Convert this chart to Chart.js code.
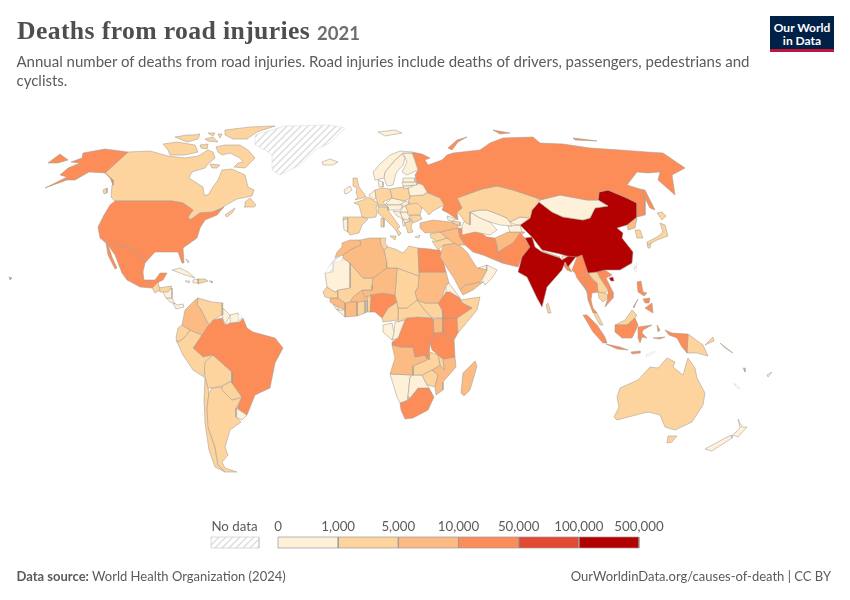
<!DOCTYPE html>
<html><head><meta charset="utf-8">
<script src="https://cdn.jsdelivr.net/npm/chart.js@4"></script>
<style>
html,body{margin:0;padding:0;background:#fff;width:850px;height:600px;overflow:hidden}
#wrap{position:relative;width:850px;height:600px;font-family:Lato,sans-serif}
canvas{position:absolute;left:0;top:0}
.t{position:absolute;white-space:nowrap}
#title{left:17px;top:16px;font:bold 25.7px "Liberation Serif",serif;color:#4e4e4e;letter-spacing:.38px}
#year{left:317px;top:22px;font:bold 18.5px Lato,sans-serif;color:#6e6e6e}
#sub{left:16.5px;top:51.5px;font-size:15px;line-height:19px;color:#5b5b5b;white-space:normal;width:760px}
.lg{top:518px;font-size:13.3px;color:#5b5b5b;transform:translateX(-50%)}
#src{left:16.5px;top:568px;font-size:13px;color:#5b5b5b}
#url{right:19px;top:568px;font-size:13px;color:#5b5b5b}
#logo{left:770px;top:16px;width:64px;height:36px;background:#002147;color:#fff;text-align:center;font:bold 12px/13px Lato,sans-serif}
#logo div{padding-top:5px}
#logo i{position:absolute;left:0;right:0;bottom:0;height:3px;background:#c0143c;display:block}
</style></head><body>
<div id="wrap">
<canvas id="c" width="850" height="600"></canvas>
<div class="t" id="title">Deaths from road injuries</div>
<div class="t" id="year">2021</div>
<div class="t" id="sub">Annual number of deaths from road injuries. Road injuries include deaths of drivers, passengers, pedestrians and cyclists.</div>
<div class="t" id="src"><b>Data source:</b> World Health Organization (2024)</div>
<div class="t" id="url">OurWorldinData.org/causes-of-death | CC BY</div>
<div class="t" id="logo"><div>Our World<br>in Data</div><i></i></div>
</div>
<script>
// Legend classes: bin index i covers legendTicks[i]..legendTicks[i+1]
const legendTicks = ["0","1,000","5,000","10,000","50,000","100,000","500,000"];
const noDataLabel = "No data";
const binColors = ["#fef0d9","#fdd49e","#fdbb84","#fc8d59","#e34a33","#b30000"];
const ND = -1;

// Country class (bin) and simplified outline, in map units.
const noDataAreas = [
["Greenland",ND,[255,135,285,126,330,125,345,128,330,143,315,150,300,165,280,175,272,170,272,155,265,150,255,145]],
["Western Sahara",ND,[325,273,330,265,335,258,343,258,343,260,333,263,333,272]],
["Taiwan",ND,[634,265,637,263,636,272,634,270]],
["French Guiana",ND,[238,313,243,318,239,322]],
["Timor",ND,[646,355,655,351,654,353,647,357]],
["New Caledonia",ND,[734,383,738,386,740,389,736,387]]
];
const northAmerica = [
["USA",3,[115,201,172,201,183,203,193,210,188,217,190,220,200,213,213,212,222,208,224,207,217,215,205,220,200,228,197,238,183,248,184,263,182,263,178,252,163,252,155,252,145,263,138,252,128,247,115,245,106,243,100,238,98,227,104,215,110,205]],
["Alaska",3,[128,152,105,149,83,153,82,158,71,162,80,163,68,168,60,175,67,177,45,188,67,180,75,180,89,172,105,173,113,180,113,185,110,178,105,173]],
["Alaska isl.",3,[48,163,60,154,68,160,58,163]],
["Hawaii",3,[9,277,12,278,10,280]],
["Canada",1,[128,152,150,151,168,156,185,158,198,156,208,150,213,152,215,158,208,164,205,168,192,172,189,178,203,187,204,195,208,195,213,187,218,180,222,170,232,169,245,175,248,187,254,190,252,196,237,199,226,205,222,208,213,212,200,213,190,220,188,217,193,210,183,203,172,201,115,201,111,197,112,185,113,185,113,180,105,173]],
["Newfoundland",1,[245,202,250,198,256,205,254,207,244,207]],
["Nova Scotia",1,[225,215,235,208,232,213,227,217]],
["Vancouver I.",1,[103,190,107,188,107,193,104,194]],
["Baffin",1,[216,147,225,145,240,145,248,150,255,158,245,168,234,167,238,163,243,162,240,158,230,153,222,155,218,152]],
["Ellesmere",1,[225,130,233,129,250,127,275,126,257,132,247,139,233,139,225,135]],
["Victoria I.",1,[163,144,177,142,195,145,198,152,185,155,170,155,168,150]],
["Banks",1,[175,137,187,135,193,135,200,134,198,139,187,142]],
["Somerset",1,[200,145,208,144,207,149,201,148]],
["Devon",1,[205,139,213,137,218,142,208,141]],
["Axel Heiberg",1,[208,133,215,133,213,136]],
["Arctic isl.",1,[218,134,222,134,220,138]],
["Southampton",1,[210,164,220,165,217,168,212,168]],
["Mexico",3,[106,243,115,245,128,247,138,252,145,263,143,272,144,280,155,280,160,273,167,273,163,280,157,283,152,288,140,287,127,280,122,273,115,255,108,245]],
["Baja",3,[106,243,108,255,115,269,117,268,112,257,108,245]],
["Guatemala",1,[152,288,158,282,160,290,155,293]],
["Honduras",1,[158,288,172,286,168,292,160,292]],
["Nicaragua",0,[163,292,172,288,172,298,166,298]],
["Costa Rica",0,[166,298,172,298,175,304,170,302]],
["Panama",0,[172,301,177,305,183,304,184,307,176,309]],
["Cuba",0,[172,270,180,268,188,272,195,278,185,275]],
["Haiti",0,[193,280,198,279,198,283,193,283]],
["Dominican Rep.",1,[198,279,205,279,208,281,198,284]],
["Jamaica",0,[185,281,190,281,189,283]],
["Puerto Rico",0,[209,281,212,281,212,283]],
["Bahamas",0,[186,259,189,261,188,263]]
];
const southAmerica = [
["Colombia",2,[198,298,195,300,185,310,182,325,190,330,202,335,207,327,209,325,207,322,200,308,197,305]],
["Venezuela",1,[198,298,212,302,223,303,222,315,213,320,209,325,207,322,200,308,197,305]],
["Guyana",0,[223,308,230,315,225,325,222,315]],
["Suriname",0,[230,315,238,313,239,322,230,323]],
["Ecuador",1,[182,325,190,330,185,337,178,342,176,338,178,328]],
["Peru",1,[190,330,202,335,193,348,203,357,213,355,205,362,204,377,193,370,183,355,176,340,178,342,185,337]],
["Brazil",3,[202,335,193,348,203,357,213,355,232,372,232,383,242,397,237,408,247,415,255,395,270,388,275,363,283,348,275,338,253,332,247,328,243,318,239,322,230,323,225,325,222,318,213,320,209,325,207,327]],
["Bolivia",1,[204,362,213,355,232,372,232,380,222,386,212,388,208,388,205,377]],
["Paraguay",1,[222,386,232,381,232,383,242,397,232,400,222,390]],
["Argentina",1,[212,388,222,387,232,400,242,397,236,408,236,417,241,422,230,430,228,437,225,447,228,455,222,462,225,468,237,472,225,472,218,465,215,447,208,427,207,408,209,393]],
["Chile",1,[205,377,208,388,209,393,207,408,209,430,215,448,218,465,225,472,215,467,209,450,205,423,204,400]],
["Uruguay",0,[236,408,247,415,242,420,236,417]]
];
const europe = [
["Iceland",0,[322,162,330,159,338,162,333,165,323,165]],
["Svalbard",0,[378,132,395,130,402,133,385,136]],
["Norway",0,[373,172,380,164,390,155,400,151,412,152,415,153,403,153,395,160,385,172,384,178,375,180]],
["Sweden",0,[384,178,385,172,395,160,402,154,405,158,403,165,396,173,393,185,387,186]],
["Finland",0,[403,153,412,153,414,158,418,170,407,175,402,172,407,162]],
["Denmark",0,[378,180,383,182,383,187,379,187]],
["Estonia",0,[403,178,415,178,415,182,403,182]],
["Latvia",0,[402,182,417,182,417,185,403,186]],
["Lithuania",0,[403,186,415,185,408,188,404,189]],
["Belarus",0,[408,188,417,183,423,185,427,192,423,195,410,196]],
["Poland",1,[390,189,403,187,408,188,410,198,405,201,392,198]],
["Germany",1,[375,190,382,188,390,189,392,198,383,202,386,205,378,205,376,198]],
["Benelux",0,[369,195,375,190,376,198,373,200]],
["UK",1,[353,178,357,178,359,187,365,195,366,197,355,200,358,197,356,193,357,188,353,186]],
["Ireland",0,[344,190,350,186,352,190,348,193,345,194]],
["France",1,[354,203,363,200,368,197,378,203,376,208,377,212,376,217,370,218,362,217,359,205]],
["Spain",1,[343,217,362,217,368,219,362,225,359,233,350,235,348,232,348,218,343,220]],
["Portugal",0,[343,220,348,218,348,232,344,230]],
["Italy",1,[378,207,388,207,388,210,390,213,400,227,397,229,401,233,399,236,395,229,386,220,378,213]],
["Sicily",1,[390,236,396,236,395,240]],
["Sardinia",1,[381,218,384,218,384,227,381,227]],
["Switzerland",0,[378,205,386,205,388,207,378,207]],
["Austria",0,[386,205,403,205,400,210,388,210,388,207]],
["Czechia",0,[386,203,392,198,405,201,400,205,388,205]],
["Slovakia",0,[400,205,405,201,410,203,403,207]],
["Hungary",0,[403,207,410,203,405,205,408,212,400,212]],
["Romania",1,[405,205,417,203,422,208,420,215,408,215]],
["Bulgaria",1,[410,215,420,215,422,219,413,223]],
["Greece",1,[405,223,413,220,411,227,413,232,408,233]],
["Serbia",0,[400,212,408,212,410,215,408,220,403,219]],
["Bosnia",0,[393,211,400,212,403,219,397,216]],
["N. Macedonia",0,[403,219,410,218,410,221,405,223]],
["Albania",0,[402,219,404,220,405,226,403,226]],
["Ukraine",1,[410,196,423,195,428,193,440,198,444,205,433,211,429,215,423,208,408,203]],
["Turkey",2,[420,223,433,220,450,222,458,225,457,228,440,232,425,233,420,228]],
["Georgia",0,[447,216,457,219,452,221,448,220]],
["Azerbaijan",1,[452,221,460,222,460,226,455,226]],
["Armenia",0,[450,222,454,222,455,226,451,226]],
["Cyprus",0,[415,237,420,235,419,238]],
["Russia",3,[412,152,422,154,430,158,425,160,428,165,442,160,447,155,453,153,480,150,490,143,503,138,533,137,540,143,563,144,590,148,620,150,647,152,663,153,685,168,672,175,675,195,658,180,660,172,648,173,637,172,627,185,640,189,645,198,645,215,637,217,637,203,627,198,608,190,599,192,598,200,587,200,560,195,540,200,537,198,513,190,497,186,482,189,457,198,462,208,457,212,458,220,448,213,442,210,444,205,440,198,428,193,427,192,423,185,417,183,415,175,418,170,414,158]],
["Kaliningrad",3,[403,187,408,186,408,188,404,189]],
["Novaya Zemlya",3,[448,148,457,140,467,137,458,142,452,150]],
["Sakhalin",3,[640,189,645,190,655,210,650,208]],
["Arctic Russia",3,[573,138,590,140,597,141,575,140]],
["Franz Josef",3,[493,130,510,133,500,134]]
];
const asia = [
["Kazakhstan",1,[457,198,482,189,497,186,513,190,537,198,539,202,532,210,530,218,520,217,510,222,507,218,500,215,487,210,480,210,470,212,470,225,465,222,460,215,457,212,462,208]],
["Uzbekistan",0,[470,212,480,210,487,210,500,215,507,218,510,222,512,226,500,225,490,222,480,218]],
["Turkmenistan",0,[462,225,470,212,480,218,490,222,497,230,490,235,475,232,462,235]],
["Kyrgyzstan",0,[510,222,520,217,530,218,520,225,513,224]],
["Tajikistan",0,[508,226,520,225,522,232,510,232]],
["Mongolia",0,[540,200,560,195,587,200,598,200,608,206,595,208,590,218,583,220,563,217,552,212,539,202]],
["China",5,[539,202,552,212,563,217,583,220,590,218,595,208,608,206,598,200,599,192,608,190,627,198,637,203,637,217,627,225,617,228,623,233,622,238,633,252,632,263,620,270,605,270,597,272,588,273,582,255,577,257,567,256,560,254,542,250,532,237,520,225,530,218,532,210]],
["Hainan",5,[609,278,613,277,614,281,611,281]],
["India",5,[525,238,532,237,535,247,542,252,560,258,562,260,572,254,579,253,575,258,568,267,565,262,562,270,547,287,542,307,537,298,527,277,518,272,522,257,530,247]],
["Nepal",1,[542,251,560,257,558,260,543,255]],
["Bhutan",0,[562,256,568,256,568,259,562,259]],
["Bangladesh",3,[562,263,568,265,572,272,567,270]],
["Pakistan",3,[520,233,525,238,530,247,522,257,518,267,502,263,498,252,513,243]],
["Afghanistan",2,[495,238,508,232,525,232,513,243,498,252,497,245]],
["Iran",3,[458,228,477,230,487,237,495,238,497,245,498,252,502,263,483,255,473,252,465,245,460,237]],
["Iraq",2,[440,232,458,228,460,237,465,245,457,245,447,238]],
["Syria",1,[430,234,440,232,447,238,437,241,431,238]],
["Israel-Jordan",1,[432,241,437,241,447,238,457,243,443,245,438,250]],
["Saudi Arabia",2,[443,245,457,243,467,252,477,268,487,270,480,282,465,285,460,290,455,280,440,257]],
["Yemen",2,[460,290,465,285,480,282,483,282,473,290,463,295]],
["Oman",0,[482,280,487,270,487,265,497,270,492,278,485,285]],
["UAE",0,[478,268,487,265,487,270]],
["Myanmar",3,[577,257,582,255,585,262,588,272,584,277,585,287,588,293,586,290,577,278,575,273,572,270]],
["Thailand",3,[584,277,588,273,593,280,597,283,598,292,592,293,591,300,593,308,597,313,593,313,588,300,587,292,585,287]],
["Laos",1,[588,273,597,272,600,278,608,290,605,293,598,292,597,283,592,278]],
["Vietnam",3,[597,272,605,270,612,275,606,278,613,292,613,298,605,307,608,298,608,290,600,278]],
["Cambodia",1,[598,292,605,293,608,295,608,298,603,302,599,298]],
["Malaysia",1,[593,309,597,313,603,325,600,325,595,316]],
["Sumatra",3,[583,315,587,315,597,325,605,337,607,343,603,343,593,332]],
["Java",3,[606,344,620,347,628,350,617,349]],
["Kalimantan",3,[615,325,627,325,635,318,638,325,635,332,632,338,622,338,615,332]],
["Malaysian Borneo",1,[615,325,625,320,632,310,637,315,635,318,627,325]],
["Sulawesi",3,[638,327,652,325,643,330,642,333,647,338,642,337,640,343,638,338]],
["Lesser Sunda",3,[631,352,640,351,640,353,632,354]],
["Seram",3,[653,338,665,337,660,339]],
["Halmahera",3,[657,325,660,330,658,332]],
["West Papua",3,[665,330,672,333,688,334,687,353,682,347,677,338,669,335]],
["PNG",1,[688,334,703,345,708,356,697,353,687,353]],
["New Britain",1,[705,345,713,337,714,341]],
["Solomon",1,[720,343,733,353,725,348]],
["Luzon",3,[637,282,641,281,643,292,647,293,644,296,638,292]],
["Mindanao",3,[645,308,652,303,653,313,648,310]],
["Visayas",3,[643,299,650,298,649,303,645,303]],
["Palawan",3,[633,307,638,299,636,303,634,308]],
["Sri Lanka",1,[546,305,548,303,551,313,548,313]],
["Hokkaido",1,[657,213,662,212,666,216,662,220]],
["Honshu",1,[660,223,665,225,668,236,657,240,648,245,647,242,657,237,663,232]],
["Kyushu",1,[647,244,651,243,650,248,648,248]],
["North Korea",2,[627,223,637,218,635,228,628,230]],
["South Korea",1,[635,230,640,230,643,238,637,238]]
];
const africa = [
["Egypt",3,[418,248,430,249,436,250,440,250,442,256,446,272,419,272]],
["Libya",1,[384,250,388,247,395,249,403,253,409,246,418,248,419,276,397,268,387,268,387,263]],
["Tunisia",1,[380,238,386,238,385,243,388,247,384,250,381,245]],
["Algeria",2,[360,240,370,238,380,238,381,245,384,250,387,263,387,268,373,278,363,278,350,263,343,258,343,255,350,250,361,245]],
["Morocco",2,[342,243,350,240,360,240,361,245,350,250,343,255,335,258,337,252,342,247]],
["Mauritania",0,[325,273,333,272,333,263,343,258,350,263,350,288,338,290,335,292,327,287,326,280]],
["Mali",1,[350,263,363,278,373,278,372,285,372,290,362,290,353,297,350,302,345,303,338,298,338,290,350,288]],
["Niger",2,[373,278,387,268,397,268,396,282,395,295,382,293,370,295,365,297,362,290,372,290,372,285]],
["Chad",1,[397,268,419,276,418,287,415,292,417,300,407,308,398,308,397,302,395,295,396,282]],
["Sudan",2,[419,272,446,272,449,283,446,285,442,298,438,303,425,303,417,300,415,292,418,287,419,276]],
["South Sudan",1,[417,300,425,303,438,303,442,310,443,318,432,318,423,308]],
["Eritrea",0,[446,285,449,283,460,298,450,292,446,292]],
["Ethiopia",3,[442,298,446,292,450,292,460,298,462,303,472,308,457,318,443,318,442,310,438,303]],
["Somalia",1,[460,300,480,297,477,310,458,333,457,318,472,308,462,303]],
["Senegal",1,[323,292,327,287,335,292,338,290,338,298,330,298,325,297]],
["Guinea",2,[330,298,338,298,345,303,345,310,338,307,333,304,330,302]],
["Sierra Leone",0,[333,304,338,307,339,310,336,309]],
["Liberia",0,[336,309,339,310,345,310,345,317]],
["Cote d'Ivoire",2,[345,303,350,302,357,302,357,316,345,317,345,310]],
["Burkina Faso",2,[350,302,353,297,362,290,368,297,365,301,357,302]],
["Ghana",1,[357,302,365,301,365,313,357,316]],
["Togo",0,[365,301,367,300,367,312,365,313]],
["Benin",1,[367,300,368,297,371,296,370,312,367,312]],
["Nigeria",3,[370,295,382,293,395,295,397,302,388,308,385,313,382,318,375,312,370,312]],
["Cameroon",1,[397,302,388,308,385,313,382,318,383,322,398,320,398,308]],
["CAR",1,[398,308,407,308,417,300,423,308,432,318,418,317,407,318,398,322,398,320]],
["Gabon",0,[383,325,392,323,394,333,392,340,383,332]],
["Congo",0,[395,322,405,320,398,338,392,340,394,332]],
["DR Congo",3,[405,320,407,318,418,317,432,318,433,319,434,333,430,343,429,360,425,355,415,357,413,347,400,347,392,345,392,342,398,338]],
["Uganda",2,[433,319,443,318,443,325,442,332,434,333]],
["Kenya",3,[443,318,457,318,458,333,454,340,442,332,443,325]],
["Tanzania",3,[434,333,442,332,454,340,455,357,443,359,432,350,430,343]],
["Angola",2,[392,345,400,347,413,347,415,357,425,355,427,360,413,366,413,375,390,374,395,358]],
["Zambia",1,[427,360,425,355,429,360,430,352,438,355,440,365,432,370,422,375,413,375,413,366]],
["Malawi",1,[438,355,443,359,444,370,440,365]],
["Mozambique",2,[443,359,455,357,456,367,443,382,443,390,436,395,435,387,438,375,432,370,440,365,444,370]],
["Zimbabwe",1,[422,375,432,370,438,375,435,387,427,385]],
["Botswana",0,[413,375,422,375,427,385,429,388,418,388,410,398,408,396,410,377]],
["Namibia",0,[390,374,413,375,410,377,408,396,408,400,400,403,397,397]],
["South Africa",3,[400,403,408,400,410,398,418,388,429,388,434,397,428,410,413,418,405,419,401,410]],
["Lesotho",0,[423,404,427,402,427,406,424,407]],
["Madagascar",2,[461,393,463,373,475,361,477,366,470,390,464,396]]
];
const oceania = [
["Australia",1,[620,388,638,380,650,367,658,368,667,358,675,362,673,367,683,375,688,358,695,368,697,378,705,393,703,405,692,422,675,430,665,427,660,415,648,412,632,416,617,420,614,417,619,407,617,397]],
["Tasmania",1,[668,436,677,436,672,442,667,443]],
["NZ South",0,[705,449,727,437,732,435,732,438,712,451]],
["NZ North",0,[738,419,742,427,747,427,738,437,733,435,740,428]],
["Vanuatu",1,[743,368,745,368,745,372]],
["Fiji",0,[767,375,772,372,768,377]]
];
const regions = [noDataAreas, northAmerica, southAmerica, europe, asia, africa, oceania];

// Styling
const borderCol = "#a39d95";
function hatch(){
  const p=document.createElement("canvas");p.width=p.height=7;
  const g=p.getContext("2d");g.fillStyle="#fff";g.fillRect(0,0,7,7);
  g.strokeStyle="#dcdcdc";g.lineWidth=1.4;
  g.beginPath();g.moveTo(-1,8);g.lineTo(8,-1);g.moveTo(-1,1);g.lineTo(1,-1);g.moveTo(6,8);g.lineTo(8,6);g.stroke();
  return document.createElement("canvas").getContext("2d").createPattern(p,"repeat");
}
const hatchFill = hatch();
function shape(label,bin,flat,bw,bc){
  const data=[];
  for(let i=0;i<flat.length;i+=2) data.push({x:flat[i],y:flat[i+1]});
  data.push({x:flat[0],y:flat[1]});
  return {label,data,showLine:true,fill:"shape",tension:0,pointRadius:0,pointHoverRadius:0,
    backgroundColor: bin===ND?hatchFill:binColors[bin],
    borderColor: bc||(bin===ND?"#dcdcdc":borderCol), borderWidth:bw===undefined?0.55:bw};
}
const datasets=[];
regions.forEach(r=>r.forEach(c=>datasets.push(shape(c[0],c[1],c[2]))));

// Legend key
const keyX0=278,keyStep=60.17,keyTop=537,keyBottom=548;
binColors.forEach((_,i)=>{
  const a=keyX0+i*keyStep,b=a+keyStep;
  datasets.push(shape("key "+legendTicks[i],i,[a,keyTop,b,keyTop,b,keyBottom,a,keyBottom],0.7,"#999"));
});
datasets.push(shape(noDataLabel,ND,[211,keyTop,259,keyTop,259,keyBottom,211,keyBottom],0.7,"#ccc"));

const wrap=document.getElementById("wrap");
legendTicks.forEach((t,i)=>{
  const d=document.createElement("div");d.className="t lg";d.textContent=t;
  d.style.left=(keyX0+i*keyStep)+"px";wrap.appendChild(d);
});
const nd=document.createElement("div");nd.className="t lg";nd.textContent=noDataLabel;nd.style.left="234.5px";wrap.appendChild(nd);

new Chart(document.getElementById("c"),{
  type:"scatter",
  data:{datasets},
  options:{
    responsive:false,animation:false,
    layout:{padding:0},
    plugins:{legend:{display:false},tooltip:{enabled:false},title:{display:false}},
    events:[],
    scales:{
      x:{type:"linear",min:0,max:850,display:false},
      y:{type:"linear",min:0,max:600,reverse:true,display:false}
    }
  }
});
</script>
</body></html>
